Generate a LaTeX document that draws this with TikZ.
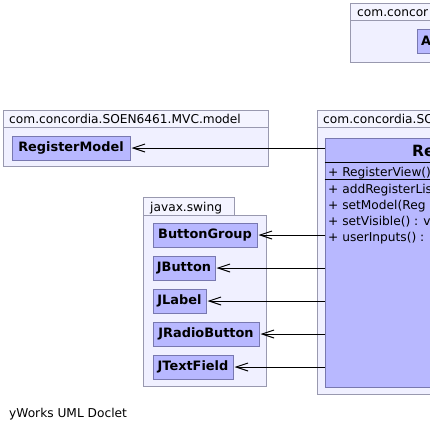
\documentclass[tikz,border=0pt]{standalone}
\usepackage{fontspec}
\setmainfont{DejaVu Sans}
\usetikzlibrary{arrows.meta}
\definecolor{pkgfill}{RGB}{240,240,255}
\definecolor{tabfill}{RGB}{244,244,255}
\definecolor{pkgline}{RGB}{153,153,175}
\definecolor{clsfill}{RGB}{184,184,255}
\definecolor{clsline}{RGB}{120,120,175}
\tikzset{
  pkg/.style={draw=pkgline, fill=pkgfill, line width=1pt},
  pkgtab/.style={draw=pkgline, fill=tabfill, line width=1pt},
  cls/.style={draw=clsline, fill=clsfill, line width=1pt, inner sep=0pt,
    minimum height=24pt, anchor=west,
    font=\fontsize{12.9}{15}\selectfont\bfseries, text height=9.5pt, text depth=2.5pt},
  lbl/.style={inner sep=0pt, font=\fontsize{12.2}{14}\selectfont, anchor=base west},
  sepline/.style={draw=black, line width=1pt},
  dep/.style={draw=black, line width=1pt, -{Straight Barb[length=12pt,width=8pt]}, shorten >=1pt},
}
\begin{document}
\begin{tikzpicture}[x=1pt,y=-1pt]
\useasboundingbox[fill=white] (0,0) rectangle (430,432);
% top package (clipped at the right edge)
\draw[pkg] (350.5,20.5) rectangle (700,62.5);
\draw[pkgtab] (350.5,3.5) rectangle (700,20.5);
\node[lbl] (toplbl) at (357,16) {com.concor};
\node[cls, anchor=north west, minimum width=300pt] (topcls) at (416.5,28.5) {};
\node[inner sep=0pt, anchor=base west, font=\fontsize{12.9}{15}\selectfont\bfseries] (topname) at (421,45) {A};
% model package
\draw[pkg] (3.5,127.5) rectangle (268.5,166.5);
\draw[pkgtab] (3.5,110.5) rectangle (268.5,127.5);
\node[lbl] (modellbl) at (9,123) {com.concordia.SOEN6461.MVC.model};
\node[cls, minimum width=118pt] (rm) at (11.5,148) {RegisterModel};
% swing package
\draw[pkg] (143.5,215.5) rectangle (266.5,386.5);
\draw[pkgtab] (143.5,197.5) rectangle (234.5,215.5);
\node[lbl] (swinglbl) at (150,211) {javax.swing};
\node[cls, minimum width=104pt] (bg) at (152.5,235) {ButtonGroup};
\node[cls, minimum width=62pt] (jb) at (152.5,268) {JButton};
\node[cls, minimum width=53pt] (jl) at (152.5,301) {JLabel};
\node[cls, minimum width=106pt] (jrb) at (152.5,334) {JRadioButton};
\node[cls, minimum width=80pt] (jtf) at (152.5,367) {JTextField};
% view package (clipped at the right edge)
\draw[pkg] (317.5,127.5) rectangle (700,394.5);
\draw[pkgtab] (317.5,110.5) rectangle (700,127.5);
\node[lbl] (viewlbl) at (323,123) {com.concordia.SOEN6461.MVC.view};
\node[cls, anchor=north west, minimum width=300pt, minimum height=249pt] (view) at (324.5,137.5) {};
\node[inner sep=0pt, anchor=base west, font=\fontsize{15.5}{18}\selectfont\bfseries] (viewname) at (412,156) {Re};
\draw[sepline] (324.5,162.5) -- (624.5,162.5);
\draw[sepline] (324.5,179.5) -- (624.5,179.5);
\node[lbl] (m0) at (328,176) {+ RegisterView()};
\node[lbl] (m1) at (328,193) {+ addRegisterLis};
\node[lbl] (m2) at (328,209) {+ setModel(Reg};
\node[lbl] (m3) at (328,225) {+ setVisible() : v};
\node[lbl] (m4) at (328,241) {+ userInputs() :};
% dependencies
\draw[dep] (rm.east -| view.west) -- (rm.east);
\draw[dep] (bg.east -| view.west) -- (bg.east);
\draw[dep] (jb.east -| view.west) -- (jb.east);
\draw[dep] (jl.east -| view.west) -- (jl.east);
\draw[dep] (jrb.east -| view.west) -- (jrb.east);
\draw[dep] (jtf.east -| view.west) -- (jtf.east);
% footer
\node[lbl] (footer) at (9,417) {yWorks UML Doclet};
\end{tikzpicture}
\end{document}
